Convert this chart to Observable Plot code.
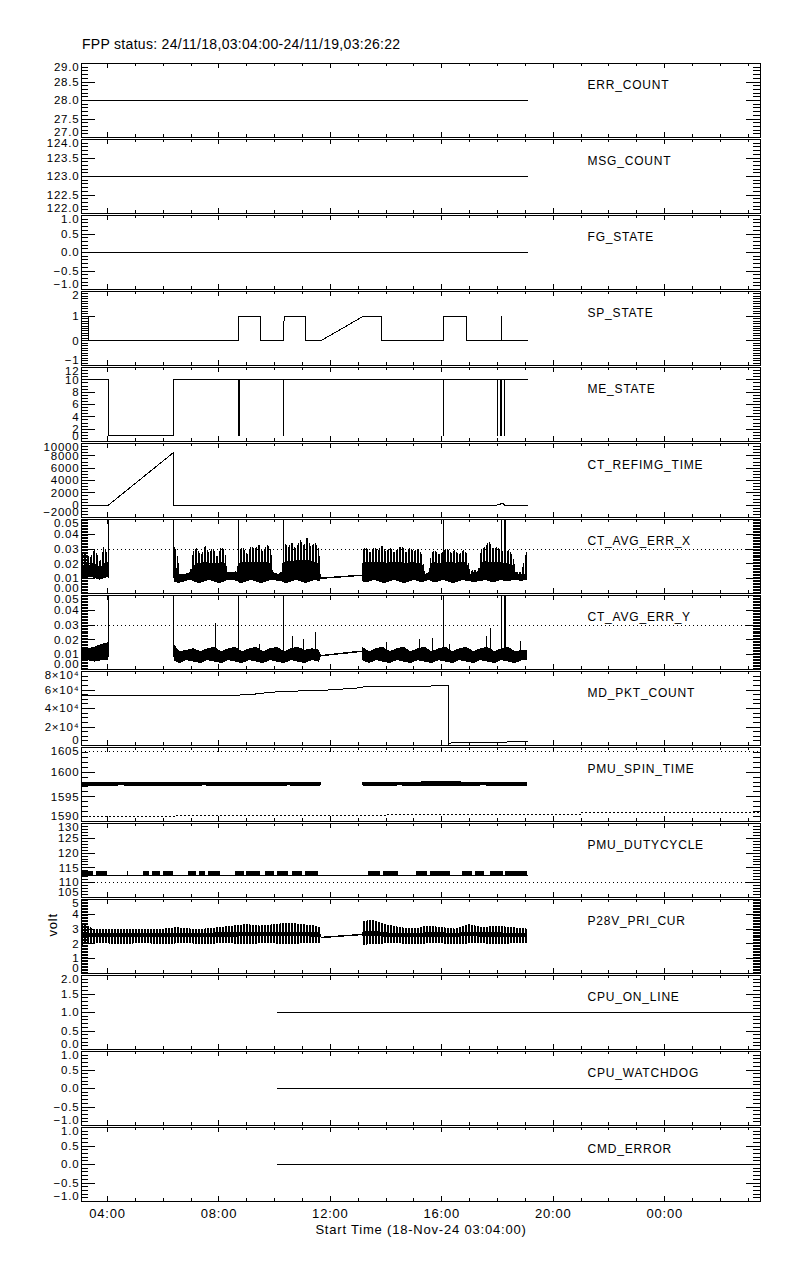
<!DOCTYPE html>
<html><head><meta charset="utf-8">
<script src="https://cdn.jsdelivr.net/npm/d3@7"></script>
<script src="https://cdn.jsdelivr.net/npm/@observablehq/plot@0.6"></script>
<style>
body{margin:0;background:#fff;width:800px;height:1280px;position:relative;overflow:hidden;font-family:"Liberation Sans",Arial,sans-serif;}
#title{position:absolute;left:82px;top:36px;font-size:14px;line-height:16px;color:#000;letter-spacing:0.3px;}
.panel{position:absolute;left:0;}
svg text{letter-spacing:0.8px;}
svg text.ylab{letter-spacing:1.4px;}
svg *{shape-rendering:crispEdges;}
</style></head><body>
<svg width="0" height="0" style="position:absolute">
<defs>
<pattern id="burst" patternUnits="userSpaceOnUse" width="3" height="4"><rect x="0" y="0" width="2" height="4" fill="#000"/></pattern>
<pattern id="volts" patternUnits="userSpaceOnUse" width="3" height="4"><rect x="0" y="0" width="2" height="4" fill="#000"/></pattern>
</defs></svg>
<div id="title">FPP status: 24/11/18,03:04:00-24/11/19,03:26:22</div>
<div id="chart"></div>
<script>
// ---- time axis (hours since 18-Nov-24 00:00) ----
const T0 = 3 + 4/60;
const T1 = 27 + 26/60 + 22/3600;
const hourTicks = d3.range(4, 28);
const majorHourTicks = [4, 8, 12, 16, 20, 24];
const xTickLabels = ["04:00", "08:00", "12:00", "16:00", "20:00", "00:00"];
const xTitle = "Start Time (18-Nov-24 03:04:00)";

const panelNames = ["ERR_COUNT","MSG_COUNT","FG_STATE","SP_STATE","ME_STATE","CT_REFIMG_TIME","CT_AVG_ERR_X","CT_AVG_ERR_Y","MD_PKT_COUNT","PMU_SPIN_TIME","PMU_DUTYCYCLE","P28V_PRI_CUR","CPU_ON_LINE","CPU_WATCHDOG","CMD_ERROR"];
const yDomains = [[27,29],[122,124],[-1,1],[-1,2],[0,12],[-2000,10000],[0,0.05],[0,0.05],[0,80000],[1590,1605],[105,130],[0,5],[0,2],[-1,1],[-1,1]];
const yTickValues = [
  [27,27.5,28,28.5,29],[122,122.5,123,123.5,124],[-1,-0.5,0,0.5,1],[-1,0,1,2],[0,2,4,6,8,10,12],
  [-2000,0,2000,4000,6000,8000,10000],[0,0.01,0.02,0.03,0.04,0.05],[0,0.01,0.02,0.03,0.04,0.05],
  [0,20000,40000,60000,80000],[1590,1595,1600,1605],[105,110,115,120,125,130],[0,1,2,3,4,5],
  [0,0.5,1,1.5,2],[-1,-0.5,0,0.5,1],[-1,-0.5,0,0.5,1]];
const yTickLabels = [
  ["27.0","27.5","28.0","28.5","29.0"],["122.0","122.5","123.0","123.5","124.0"],["\u22121.0","\u22120.5","0.0","0.5","1.0"],
  ["\u22121","0","1","2"],["0","2","4","6","8","10","12"],["\u22122000","0","2000","4000","6000","8000","10000"],
  ["0.00","0.01","0.02","0.03","0.04","0.05"],["0.00","0.01","0.02","0.03","0.04","0.05"],
  ["0","2\u00d710\u2074","4\u00d710\u2074","6\u00d710\u2074","8\u00d710\u2074"],["1590","1595","1600","1605"],
  ["105","110","115","120","125","130"],["0","1","2","3","4","5"],["0.0","0.5","1.0","1.5","2.0"],
  ["\u22121.0","\u22120.5","0.0","0.5","1.0"],["\u22121.0","\u22120.5","0.0","0.5","1.0"]];
const yMinorSteps = [0.1,0.1,0.1,0.1,0.5,500,0.001,0.001,5000,1,1,0.1,0.1,0.1,0.1];

// ---- series ----
const flatT = [3.07, 19.08];
const errCountV = [28, 28];
const msgCountV = [123, 123];
const fgStateV = [0, 0];

const spStateT = [3.07,3.32,3.32,8.70,8.70,9.49,9.49,10.32,10.33,10.34,11.11,11.11,11.65,13.19,13.85,13.85,16.06,16.06,16.89,16.89,18.13,18.13,18.16,18.16,19.08];
const spStateV = [1,1,0,0,1,1,0,0,0.5,1,1,0,0,1,1,0,0,1,1,0,0,1,1,0,0];

const meStateT = [3.07,4.03,4.03,6.37,6.37,8.70,8.70,8.73,8.73,10.32,10.32,10.33,16.05,16.05,16.06,18.0,18.0,18.01,18.12,18.12,18.15,18.15,18.24,18.24,18.25,19.08];
const meStateV = [10,10,1,1,10,10,1,1,10,10,1,10,10,1,10,10,1,10,10,1,1,10,10,1,10,10];

const refImgT = [3.07,4.03,6.36,6.37,17.95,18.05,18.2,18.25,19.08];
const refImgV = [0,0,8500,0,0,150,250,0,0];

// CT_AVG_ERR_X envelope rows: [hour, low, dense top, spike top]
const errXSegA = [[3.07,0.009,0.018,0.025],[3.21,0.010,0.020,0.028],[3.39,0.011,0.019,0.024],[3.57,0.010,0.020,0.030],[3.75,0.009,0.017,0.021],[3.89,0.010,0.020,0.032],[4.02,0.011,0.021,0.026]];
const errXSegB = [[6.39,0.008,0.018,0.032],[6.51,0.007,0.017,0.028],[6.62,0.007,0.012,0.013],[6.80,0.008,0.013,0.013],[6.98,0.009,0.014,0.014],
  [7.09,0.008,0.018,0.028],[7.23,0.007,0.020,0.031],[7.37,0.007,0.020,0.025],[7.52,0.008,0.021,0.032],[7.66,0.009,0.020,0.027],[7.80,0.008,0.020,0.031],[7.95,0.007,0.020,0.024],[8.09,0.007,0.021,0.031],[8.24,0.008,0.020,0.029],
  [8.31,0.009,0.014,0.014],[8.52,0.009,0.014,0.014],[8.67,0.008,0.014,0.015],
  [8.74,0.007,0.020,0.029],[8.88,0.007,0.021,0.031],[9.03,0.008,0.021,0.026],[9.17,0.009,0.021,0.032],[9.31,0.008,0.021,0.030],[9.46,0.007,0.021,0.033],[9.60,0.007,0.021,0.028],[9.74,0.008,0.021,0.033],[9.89,0.009,0.020,0.029],
  [9.96,0.009,0.014,0.014],[10.14,0.008,0.013,0.013],[10.28,0.008,0.014,0.015],
  [10.35,0.007,0.021,0.034],[10.50,0.007,0.022,0.031],[10.64,0.008,0.021,0.034],[10.78,0.009,0.022,0.030],[10.93,0.008,0.022,0.036],[11.07,0.007,0.022,0.032],[11.18,0.007,0.022,0.038],[11.32,0.008,0.022,0.031],[11.47,0.009,0.021,0.034],[11.61,0.008,0.020,0.030],
  [11.68,0.0095,0.0105,0.0105]];
const errXSegC = [[13.14,0.0115,0.0125,0.0125],
  [13.15,0.008,0.020,0.029],[13.30,0.007,0.021,0.031],[13.44,0.008,0.021,0.027],[13.58,0.009,0.021,0.031],[13.73,0.008,0.021,0.029],[13.87,0.007,0.021,0.032],[14.01,0.007,0.020,0.028],[14.16,0.008,0.021,0.031],[14.30,0.009,0.021,0.027],[14.44,0.008,0.021,0.030],[14.59,0.007,0.021,0.032],[14.73,0.007,0.020,0.027],[14.88,0.008,0.021,0.031],[15.02,0.009,0.021,0.028],[15.16,0.008,0.020,0.030],[15.31,0.007,0.020,0.026],
  [15.41,0.008,0.013,0.013],[15.56,0.009,0.014,0.014],
  [15.63,0.008,0.020,0.027],[15.77,0.007,0.021,0.029],[15.92,0.008,0.020,0.026],[16.06,0.009,0.021,0.028],[16.20,0.008,0.021,0.030],[16.35,0.007,0.021,0.027],[16.49,0.007,0.020,0.029],[16.63,0.008,0.021,0.026],[16.78,0.009,0.021,0.029],[16.92,0.008,0.020,0.027],
  [17.03,0.008,0.013,0.014],[17.17,0.007,0.014,0.016],[17.32,0.008,0.014,0.015],
  [17.42,0.008,0.020,0.029],[17.57,0.009,0.022,0.031],[17.71,0.008,0.021,0.035],[17.85,0.007,0.021,0.030],[17.99,0.008,0.021,0.031],[18.14,0.009,0.021,0.029],[18.29,0.008,0.020,0.027],[18.43,0.008,0.020,0.029],[18.57,0.009,0.019,0.025],
  [18.68,0.009,0.013,0.014],[18.86,0.008,0.013,0.014],[19.06,0.009,0.013,0.028]];
const errFullSpikeT = [4.03,6.38,8.70,10.32,16.05,18.13,18.24,18.27];
const errLimit = 0.03;

// CT_AVG_ERR_Y envelope rows: [hour, low, top]
const errYSegA = [[3.07,0.006,0.013],[3.30,0.006,0.014],[3.55,0.005,0.015],[3.80,0.006,0.017],[4.02,0.006,0.018]];
const errYSegB = [[6.39,0.006,0.017],[6.60,0.004,0.012],[6.85,0.006,0.013],[7.10,0.005,0.014],[7.35,0.004,0.012],[7.60,0.006,0.014],[7.85,0.005,0.015],[8.10,0.004,0.012],[8.35,0.006,0.014],[8.60,0.005,0.015],[8.85,0.004,0.012],[9.10,0.006,0.014],[9.35,0.005,0.015],[9.60,0.004,0.012],[9.85,0.006,0.014],[10.10,0.005,0.015],[10.35,0.004,0.012],[10.60,0.006,0.014],[10.85,0.005,0.015],[11.10,0.004,0.013],[11.35,0.006,0.014],[11.60,0.005,0.013],[11.68,0.0085,0.0095]];
const errYSegC = [[13.14,0.0115,0.0125],[13.15,0.006,0.015],[13.40,0.004,0.012],[13.65,0.006,0.014],[13.90,0.005,0.015],[14.15,0.004,0.012],[14.40,0.006,0.014],[14.65,0.005,0.015],[14.90,0.004,0.012],[15.15,0.006,0.014],[15.40,0.005,0.015],[15.65,0.004,0.012],[15.90,0.006,0.014],[16.15,0.005,0.015],[16.40,0.004,0.012],[16.65,0.006,0.014],[16.90,0.005,0.015],[17.15,0.004,0.012],[17.40,0.006,0.014],[17.65,0.005,0.015],[17.90,0.004,0.012],[18.15,0.006,0.014],[18.40,0.005,0.015],[18.65,0.004,0.012],[18.90,0.006,0.013],[19.06,0.006,0.013]];
const errYSpikeT = [7.88,9.45,10.64,11.03,11.47,14.0,15.2,15.65,16.27,17.6,17.75,18.82];
const errYSpikeV = [0.031,0.017,0.022,0.020,0.025,0.018,0.020,0.021,0.017,0.022,0.028,0.019];

const mdPktT = [3.07,8.72,8.8,9.3,9.35,9.9,9.95,10.6,10.65,11.68,13.14,13.2,14.5,16.23,16.24,16.3,16.45,19.08];
const mdPktV = [54000,54000,55000,55500,56500,57000,57800,58200,58800,59500,62500,63500,64000,64500,800,2500,3200,4000];

// PMU_SPIN_TIME rows: [hour, low, high]
const spinSegA = [[3.07,1597.1,1597.9],[4.5,1597.2,1597.9],[6.0,1597.1,1598.0],[7.5,1597.2,1597.9],[9.0,1597.0,1597.9],[10.5,1597.2,1597.9],[11.65,1597.1,1598.0],[11.68,1597.45,1597.6]];
const spinSegC = [[13.14,1597.45,1597.6],[13.19,1597.1,1598.0],[14.5,1597.2,1597.9],[16.0,1597.1,1598.1],[17.5,1597.2,1597.9],[19.06,1597.1,1598.0]];
const spinUpperLimit = 1604.2;
const spinLowerT = [T0,6.4,6.41,14.0,14.01,21.0,21.01,T1];
const spinLowerV = [1591.0,1591.0,1591.3,1591.3,1591.5,1591.5,1591.9,1591.9];

const dutyBase = 112.4, dutyHigh = 113.7, dutyLimit = 110;
const dutyDashStart = [3.07,3.6,4.72,5.29,5.6,6.0,6.91,7.3,7.62,8.59,9.0,9.67,10.1,10.64,11.1,13.37,13.9,15.09,15.6,16.74,17.2,17.75,18.3];
const dutyDashEnd   = [3.5,4.0,4.76,5.5,5.9,6.37,7.2,7.52,8.05,8.9,9.49,10.0,10.5,11.0,11.57,13.8,14.44,15.5,16.31,17.1,17.53,18.2,19.08];

// P28V rows: [hour, low, core low, core high, high]
const voltSegA = [[3.07,1.9,2.45,2.7,3.4],[3.5,2.0,2.45,2.7,3.0],[4.0,2.0,2.45,2.7,3.0],[4.5,1.95,2.45,2.7,3.0],[5.0,2.0,2.45,2.7,3.0],[5.5,2.0,2.45,2.7,3.0],[6.0,1.95,2.45,2.7,3.0],[6.5,2.0,2.45,2.7,3.1],[7.0,2.0,2.45,2.7,3.0],[7.5,1.95,2.45,2.7,3.0],[8.0,2.0,2.45,2.75,3.1],[8.5,2.0,2.45,2.75,3.2],[9.0,1.95,2.5,2.8,3.3],[9.5,2.0,2.5,2.8,3.2],[10.0,2.0,2.5,2.8,3.3],[10.5,1.95,2.5,2.8,3.4],[11.0,2.0,2.5,2.8,3.3],[11.5,2.0,2.45,2.75,3.2],[11.65,2.0,2.45,2.75,3.1],[11.68,2.35,2.35,2.45,2.45]];
const voltSegC = [[13.14,2.55,2.55,2.65,2.65],[13.19,1.9,2.5,2.85,3.5],[13.5,1.95,2.5,2.85,3.6],[14.0,2.0,2.45,2.75,3.3],[14.5,2.0,2.45,2.7,3.1],[15.0,1.95,2.45,2.7,3.0],[15.5,2.0,2.45,2.75,3.2],[16.0,2.0,2.45,2.75,3.1],[16.5,1.95,2.45,2.7,3.0],[17.0,2.0,2.5,2.8,3.3],[17.5,2.0,2.45,2.75,3.1],[18.0,1.95,2.45,2.75,3.2],[18.5,2.0,2.45,2.7,3.1],[19.06,2.0,2.45,2.7,3.0]];

const cpuT = [10.10, 27.15];
const cpuOnLineV = [1, 1];
const cpuWatchdogV = [0, 0];
const cmdErrorV = [0, 0];

// ---- helpers ----
const zip = (t, v) => t.map((x, k) => ({t: x, v: v[k]}));
const gap = (t, n) => [t, ...Array(n).fill(null)];
const lineOf = (t, v, extra = {}) => Plot.line(zip(t, v), {x: "t", y: "v", stroke: "black", strokeWidth: 1, clip: true, ...extra});

const frameW = 679, frameH = 74;
function commonMarks(i) {
  const dom = yDomains[i], maj = yTickValues[i], lab = yTickLabels[i], step = yMinorSteps[i];
  const minor = d3.range(Math.round((dom[1] - dom[0]) / step) + 1).map(k => dom[0] + k * step);
  const lbl = maj.map((v, k) => ({v, s: lab[k]}));
  const mid = lbl.filter(d => d.v !== dom[0] && d.v !== dom[1]);
  const top = lbl.filter(d => d.v === dom[1]);
  const bot = lbl.filter(d => d.v === dom[0]);
  const ts = {stroke: "black", strokeWidth: 1};
  const txt = {y: "v", text: "s", frameAnchor: "left", textAnchor: "end", dx: -2, lineAnchor: "middle", fill: "black", fontSize: 11.5, className: "ylab"};
  return [
    Plot.frame({stroke: "black", strokeWidth: 1}),
    Plot.tickY(minor, {y: d => d, insetRight: frameW - 7, ...ts}),
    Plot.tickY(minor, {y: d => d, insetLeft: frameW - 7, ...ts}),
    Plot.tickY(maj, {y: d => d, insetRight: frameW - 14, ...ts}),
    Plot.tickY(maj, {y: d => d, insetLeft: frameW - 14, ...ts}),
    Plot.tickX(hourTicks, {x: d => d, insetBottom: frameH - 3, ...ts}),
    Plot.tickX(hourTicks, {x: d => d, insetTop: frameH - 3, ...ts}),
    Plot.tickX(majorHourTicks, {x: d => d, insetBottom: frameH - 5, ...ts}),
    Plot.tickX(majorHourTicks, {x: d => d, insetTop: frameH - 5, ...ts}),
    Plot.text(mid, txt),
    Plot.text(top, {...txt, dy: 4}),
    Plot.text(bot, {...txt, dy: -5}),
    Plot.text([panelNames[i]], {text: d => d, frameAnchor: "top-left", dx: 506, dy: 22, textAnchor: "start", lineAnchor: "middle", fill: "black"})
  ];
}

function errXMarks() {
  const rows = [...errXSegA, gap(5.2, 3), ...errXSegB, ...errXSegC];
  return [
    Plot.ruleY([errLimit], {stroke: "black", strokeDasharray: "1,3"}),
    Plot.areaY(rows, {x: d => d[0], y1: d => d[2], y2: d => d[3], fill: "url(#burst)", clip: true}),
    Plot.areaY(rows, {x: d => d[0], y1: d => d[1], y2: d => d[2], fill: "black", clip: true}),
    Plot.ruleX(errFullSpikeT, {x: d => d, y1: () => 0.01, y2: () => 0.06, stroke: "black", clip: true})
  ];
}
function errYMarks() {
  const rows = [...errYSegA, gap(5.2, 2), ...errYSegB, ...errYSegC];
  return [
    Plot.ruleY([errLimit], {stroke: "black", strokeDasharray: "1,3"}),
    Plot.areaY(rows, {x: d => d[0], y1: d => d[1], y2: d => d[2], fill: "black", clip: true}),
    Plot.ruleX(zip(errYSpikeT, errYSpikeV), {x: "t", y1: () => 0.012, y2: "v", stroke: "black", clip: true}),
    Plot.ruleX(errFullSpikeT, {x: d => d, y1: () => 0.008, y2: () => 0.06, stroke: "black", clip: true})
  ];
}

const panelMarks = [
  () => [lineOf(flatT, errCountV)],
  () => [lineOf(flatT, msgCountV)],
  () => [lineOf(flatT, fgStateV)],
  () => [lineOf(spStateT, spStateV)],
  () => [lineOf(meStateT, meStateV)],
  () => [lineOf(refImgT, refImgV)],
  errXMarks,
  errYMarks,
  () => [lineOf(mdPktT, mdPktV)],
  () => [
    Plot.ruleY([spinUpperLimit], {stroke: "black", strokeDasharray: "1,3"}),
    lineOf(spinLowerT, spinLowerV, {strokeDasharray: "1,3"}),
    Plot.areaY([...spinSegA, ...spinSegC], {x: d => d[0], y1: d => d[1], y2: d => d[2], fill: "black", clip: true})
  ],
  () => [
    Plot.ruleY([dutyLimit], {stroke: "black", strokeDasharray: "1,3"}),
    lineOf(flatT, [dutyBase, dutyBase]),
    Plot.rect(zip(dutyDashStart, dutyDashEnd), {x1: "t", x2: "v", y1: () => dutyBase, y2: () => dutyHigh, fill: "black", clip: true})
  ],
  () => {
    const rows = [...voltSegA, ...voltSegC];
    return [
      Plot.areaY(rows, {x: d => d[0], y1: d => d[1], y2: d => d[4], fill: "url(#volts)", clip: true}),
      Plot.areaY(rows, {x: d => d[0], y1: d => d[2], y2: d => d[3], fill: "black", clip: true}),
      Plot.text(["volt"], {text: d => d, frameAnchor: "left", dx: -29, rotate: -90, fill: "black", fontSize: 13})
    ];
  },
  () => [lineOf(cpuT, cpuOnLineV)],
  () => [lineOf(cpuT, cpuWatchdogV)],
  () => [lineOf(cpuT, cmdErrorV)]
];

const chart = document.getElementById("chart");
panelNames.forEach((name, i) => {
  const last = i === panelNames.length - 1;
  const H = last ? 121 : 76;
  const marks = [...panelMarks[i](), ...commonMarks(i)];
  if (last) {
    marks.push(
      Plot.text(majorHourTicks.map((h, k) => ({h, s: xTickLabels[k]})), {x: "h", text: "s", frameAnchor: "bottom", dy: 12, lineAnchor: "middle", fill: "black", fontSize: 13}),
      Plot.text([xTitle], {text: d => d, frameAnchor: "bottom", dy: 28, lineAnchor: "middle", fill: "black", fontSize: 13})
    );
  }
  const svg = Plot.plot({
    width: 800, height: H,
    marginTop: 1, marginBottom: H - 1 - frameH, marginLeft: 81, marginRight: 40,
    x: {domain: [T0, T1], axis: null},
    y: {domain: yDomains[i], axis: null},
    style: {fontFamily: "'Liberation Sans', Arial, sans-serif", fontSize: "12px", background: "transparent", overflow: "visible", color: "black"},
    marks
  });
  const div = document.createElement("div");
  div.className = "panel";
  div.style.top = (62 + 76 * i) + "px";
  div.appendChild(svg);
  chart.appendChild(div);
});
</script>
</body></html>
